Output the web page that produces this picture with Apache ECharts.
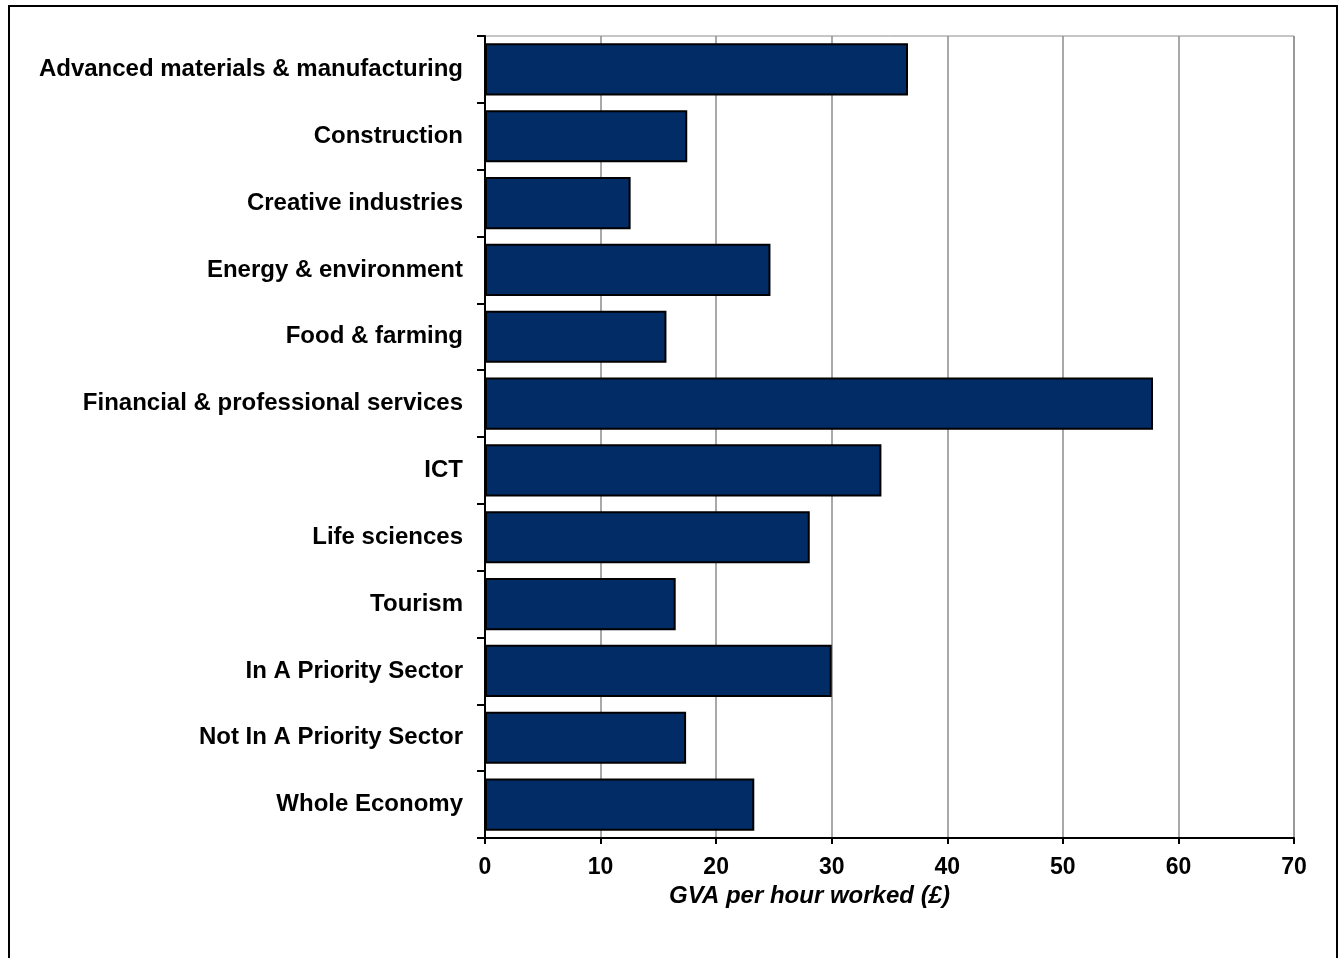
<!DOCTYPE html>
<html>
<head>
<meta charset="utf-8">
<script src="https://cdn.jsdelivr.net/npm/echarts@6/dist/echarts.min.js"></script>
<style>
  html, body { margin: 0; padding: 0; background: #fff; overflow: hidden; }
  #frame { position: absolute; left: 8px; top: 5px; width: 1330px; height: 980px; border: 2px solid #000; box-sizing: border-box; }
  #chart { position: absolute; left: 0; top: 0; width: 1341px; height: 958px; }
</style>
</head>
<body>
<div id="frame"></div>
<div id="chart"></div>
<script>
const categories = [
  "Advanced materials & manufacturing",
  "Construction",
  "Creative industries",
  "Energy & environment",
  "Food & farming",
  "Financial & professional services",
  "ICT",
  "Life sciences",
  "Tourism",
  "In A Priority Sector",
  "Not In A Priority Sector",
  "Whole Economy"
];
const gvaPerHour = [36.6, 17.5, 12.6, 24.7, 15.7, 57.8, 34.3, 28.1, 16.5, 30.0, 17.4, 23.3];
const xTicks = [0, 10, 20, 30, 40, 50, 60, 70];
const xAxisTitle = "GVA per hour worked (£)";

const chart = echarts.init(document.getElementById('chart'), null, { renderer: 'canvas' });
const font = '"Liberation Sans", Arial, sans-serif';
chart.setOption({
  animation: false,
  backgroundColor: 'transparent',
  grid: {
    left: 485, right: 47, top: 36, bottom: 120,
    show: true, borderColor: '#8c8c8c', borderWidth: 1, backgroundColor: 'transparent'
  },
  xAxis: {
    type: 'value',
    min: xTicks[0], max: xTicks[xTicks.length - 1], interval: 10,
    name: xAxisTitle,
    nameLocation: 'middle',
    nameGap: 45,
    nameTextStyle: { fontFamily: font, fontSize: 24, fontWeight: 'bold', fontStyle: 'italic', color: '#000', padding: [0, 160, 0, 0] },
    axisLine: { show: true, lineStyle: { color: '#000', width: 2 } },
    axisTick: { show: true, length: 6, lineStyle: { color: '#000', width: 2 } },
    axisLabel: { fontFamily: font, fontSize: 23, fontWeight: 'bold', color: '#000', margin: 18 },
    splitLine: { show: true, lineStyle: { color: '#8c8c8c', width: 1.5 } }
  },
  yAxis: {
    type: 'category',
    data: categories,
    inverse: true,
    axisLine: { show: true, lineStyle: { color: '#000', width: 2 } },
    axisTick: { show: true, length: 8, lineStyle: { color: '#000', width: 2 } },
    axisLabel: { fontFamily: font, fontSize: 24, fontWeight: 'bold', color: '#000', margin: 22 },
    splitLine: { show: false }
  },
  series: [{
    type: 'bar',
    data: gvaPerHour,
    barCategoryGap: '22%',
    itemStyle: { color: '#022c66', borderColor: '#000', borderWidth: 2 }
  }]
});
</script>
</body>
</html>
